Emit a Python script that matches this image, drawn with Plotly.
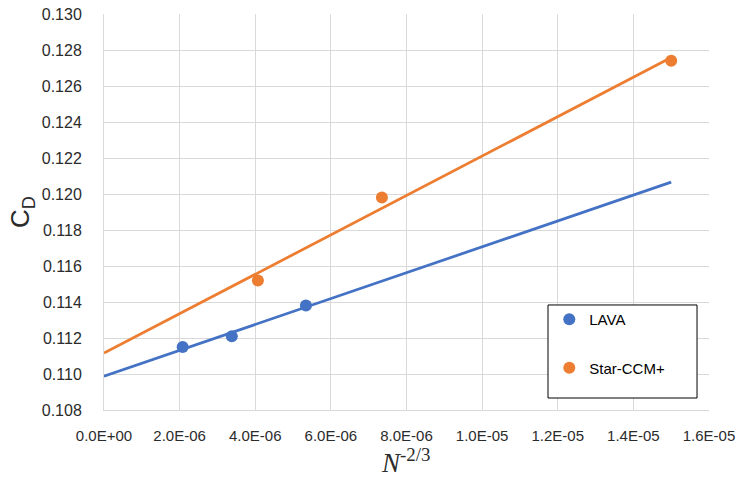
import numpy as np
import plotly.graph_objects as go

# Grid-convergence data: N^-2/3 vs drag coefficient
lava_x = [2.08e-6, 3.38e-6, 5.34e-6]
lava_cd = [0.1115, 0.1121, 0.1138]
star_x = [4.07e-6, 7.35e-6, 1.50e-5]
star_cd = [0.1152, 0.1198, 0.1274]

x_tickvals = [0, 2e-6, 4e-6, 6e-6, 8e-6, 1e-5, 1.2e-5, 1.4e-5, 1.6e-5]
x_ticktext = ["0.0E+00", "2.0E-06", "4.0E-06", "6.0E-06", "8.0E-06",
              "1.0E-05", "1.2E-05", "1.4E-05", "1.6E-05"]
trend_range = [0.0, 1.5e-5]

BLUE = "#4472C4"
ORANGE = "#ED7D31"
FONT = "Liberation Sans, Arial, sans-serif"
TXT = "#2b2b2b"

fig = go.Figure()

# Linear trendlines (least-squares fit of each series)
for xs, ys, color in [(lava_x, lava_cd, BLUE), (star_x, star_cd, ORANGE)]:
    slope, intercept = np.polyfit(xs, ys, 1)
    tx = np.array(trend_range)
    fig.add_trace(go.Scatter(x=tx, y=slope * tx + intercept, mode="lines",
                             line=dict(color=color, width=2.75),
                             showlegend=False, hoverinfo="skip"))

fig.add_trace(go.Scatter(x=lava_x, y=lava_cd, mode="markers", name="LAVA",
                         legendgroup="a",
                         marker=dict(color=BLUE, size=12)))
fig.add_trace(go.Scatter(x=star_x, y=star_cd, mode="markers", name="Star-CCM+",
                         legendgroup="b",
                         marker=dict(color=ORANGE, size=12)))

# Framed legend panel
fig.add_shape(type="rect", xref="paper", yref="paper",
              x0=0.7339, x1=0.9802, y0=0.0303, y1=0.2652,
              fillcolor="white", line=dict(color="black", width=1), layer="above")

# x-axis title
fig.add_annotation(text="<i>N</i><sup>-2/3</sup>", xref="paper", yref="paper",
                   x=0.498, y=-0.129, xanchor="center", yanchor="middle",
                   showarrow=False,
                   font=dict(family="Liberation Serif, Times New Roman, serif",
                             size=27, color=TXT))

fig.update_layout(
    width=740, height=479,
    margin=dict(l=104, r=31, t=14, b=69, autoexpand=False),
    paper_bgcolor="white", plot_bgcolor="white",
    font=dict(family=FONT, size=15, color=TXT),
    legend=dict(x=0.736, y=0.2702, xanchor="left", yanchor="top",
                bgcolor="rgba(0,0,0,0)", borderwidth=0,
                font=dict(size=15, color="black"),
                tracegroupgap=26, entrywidth=125, itemsizing="constant"),
    xaxis=dict(range=[0, 1.6e-5], tickvals=x_tickvals, ticktext=x_ticktext,
               showgrid=True, gridcolor="#D9D9D9", gridwidth=1,
               showline=True, linecolor="#D9D9D9", zeroline=False,
               automargin=False,
               ticks="", ticklabelstandoff=12, tickfont=dict(size=15, color=TXT)),
    yaxis=dict(range=[0.108, 0.130], dtick=0.002, tick0=0.108, tickformat=".3f",
               showgrid=True, gridcolor="#D9D9D9", gridwidth=1,
               showline=True, linecolor="#D9D9D9", zeroline=False,
               automargin=False,
               ticks="", ticklabelstandoff=18, tickfont=dict(size=16, color=TXT),
               title=dict(text="C<sub>D</sub>", standoff=4,
                          font=dict(family=FONT, size=26, color=TXT))),
)

fig.write_html("out.html")
